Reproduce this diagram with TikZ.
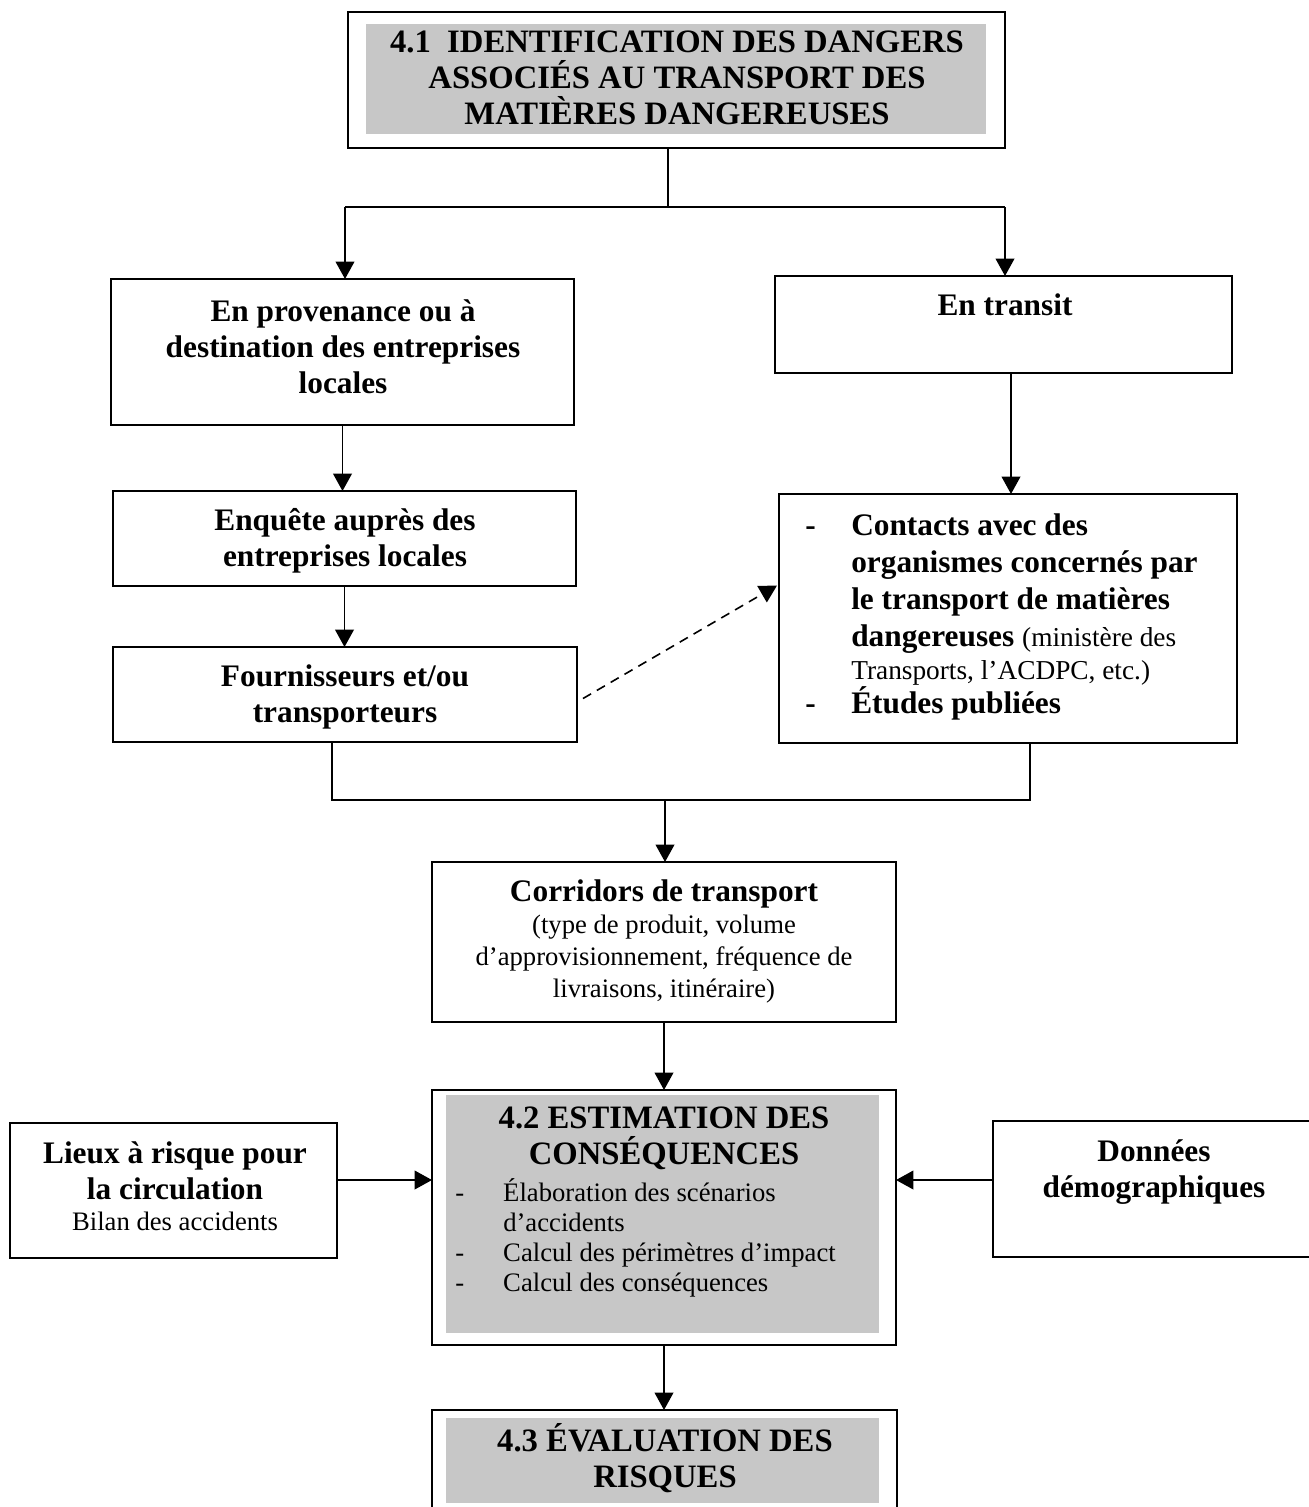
\documentclass[tikz,border=0pt]{standalone}
\usepackage{fontspec}
\setmainfont{Liberation Serif}
\usepackage{array}
\usetikzlibrary{arrows.meta,calc}
\begin{document}
\begin{tikzpicture}[x=0.75pt,y=-0.75pt,
  box/.style={draw, line width=1.3pt, inner sep=0pt, outer sep=0pt, rectangle},
  link/.style={line width=1.2pt},
  arr/.style={link, -{Triangle[length=13pt,width=14pt]}},
  dasharr/.style={arr, dash pattern=on 7pt off 5pt},
  hd/.style={font=\fontsize{24.5}{27}\selectfont\bfseries, align=center, inner sep=0pt},
  bd/.style={font=\fontsize{23.5}{27}\selectfont\bfseries, align=center, inner sep=0pt},
  rg/.style={font=\fontsize{20}{24}\selectfont, align=center, inner sep=0pt},
  shade/.style={fill=black!22}
]
\useasboundingbox (0,0) rectangle (1309,1507);
\begin{scope}
\clip (0,0) rectangle (1309,1507);

% shaded heading areas
\fill[shade] (366,24) rectangle (986,134);
\fill[shade] (446,1095) rectangle (879,1333);
\fill[shade] (446,1418) rectangle (879,1503);

% boxes
\node[box, minimum width=492.75pt, minimum height=102pt]   (title)    at (676.5,80) {};
\node[box, minimum width=347.25pt, minimum height=109.5pt] (prov)     at (342.5,352) {};
\node[box, minimum width=342.75pt, minimum height=72.75pt] (transit)  at (1003.5,324.5) {};
\node[box, minimum width=347.25pt, minimum height=71.25pt] (enq)      at (344.5,538.5) {};
\node[box, minimum width=348pt,    minimum height=71.25pt] (four)     at (345,694.5) {};
\node[box, minimum width=343.5pt,  minimum height=186.75pt](contacts) at (1008,618.5) {};
\node[box, minimum width=348pt,    minimum height=120pt]   (corr)     at (664,942) {};
\node[box, minimum width=348pt,    minimum height=191.25pt](est)      at (664,1217.5) {};
\node[box, minimum width=245.25pt, minimum height=101.25pt](lieux)    at (173.5,1190.5) {};
\node[box, minimum width=252.75pt, minimum height=102pt]   (donnees)  at (1161.5,1189) {};
\node[box, minimum width=348.75pt, minimum height=90pt]    (eval)     at (664.5,1470) {};

% texts
\node[hd] (ttitle) at (677,78) {4.1\ \ IDENTIFICATION DES DANGERS\\ASSOCIÉS AU TRANSPORT DES\\MATIÈRES DANGEREUSES};
\node[bd] (tprov) at (343,347) {En provenance ou à\\destination des entreprises\\locales};
\node[bd] (ttransit) at (1005,305) {En transit};
\node[bd] (tenq) at (345,541) {Enquête auprès des\\entreprises locales};
\node[bd] (tfour) at (345,697) {Fournisseurs et/ou\\transporteurs};
\node[inner sep=0pt, anchor=north west, font=\fontsize{23.5}{27.75}\selectfont\bfseries] (tcontacts) at (805,509)
  {\begin{tabular}{@{}p{34.5pt}@{}l@{}}
   - & Contacts avec des\\
     & organismes concernés par\\
     & le transport de matières\\
     & dangereuses {\fontseries{m}\fontsize{20.5}{24}\selectfont (ministère des}\\[-3pt]
     & {\fontseries{m}\fontsize{20.5}{24}\selectfont Transports, l’ACDPC, etc.)}\\[-3pt]
   - & Études publiées
   \end{tabular}};
\node[bd] (tcorr) at (664,894) {Corridors de transport};
\node[rg] (tcorr2) at (664,959) {(type de produit, volume\\d’approvisionnement, fréquence de\\livraisons, itinéraire)};
\node[hd] (test) at (664,1138) {4.2 ESTIMATION DES\\CONSÉQUENCES};
\node[inner sep=0pt, anchor=north west, font=\fontsize{20}{22.5}\selectfont] (testlist) at (455,1178)
  {\begin{tabular}{@{}p{36pt}@{}l@{}}
   - & Élaboration des scénarios\\
     & d’accidents\\
   - & Calcul des périmètres d’impact\\
   - & Calcul des conséquences
   \end{tabular}};
\node[bd] (tlieux) at (175,1170.5) {Lieux à risque pour\\la circulation};
\node[rg] (tlieux2) at (175,1221) {Bilan des accidents};
\node[bd] (tdonnees) at (1154,1172) {Données\\démographiques};
\node[hd] (teval) at (665,1458) {4.3 ÉVALUATION DES\\RISQUES};

% connectors
\coordinate (split) at (668,207);
\coordinate (sl) at (345,207);
\coordinate (sr) at (1005,207);
\draw[link] (title.south -| split) -- (split);
\draw[link] (sl) -- (sr);
\draw[arr] (sl) -- (sl |- prov.north);
\draw[arr] (sr) -- (sr |- transit.north);
\draw[arr] (prov.south) -- (prov.south |- enq.north);
\draw[arr] (enq.south) -- (enq.south |- four.north);
\coordinate (tx) at (1011,0);
\draw[arr] (transit.south -| tx) -- (contacts.north -| tx);
\coordinate (ds) at ($(four.east)+(6,4)$);
\coordinate (de) at ($(contacts.west)+(-2,-33)$);
\draw[dasharr] (ds) -- (de);
\coordinate (ml) at (332,800);
\coordinate (mr) at (1030,800);
\coordinate (mm) at (665,800);
\draw[link] (four.south -| ml) -- (ml) -- (mr) -- (contacts.south -| mr);
\draw[arr] (mm) -- (mm |- corr.north);
\draw[arr] (corr.south) -- (est.north);
\draw[arr] (est.south) -- (est.south |- eval.north);
\coordinate (ay) at (0,1180);
\draw[arr] (lieux.east |- ay) -- (est.west |- ay);
\draw[arr] (donnees.west |- ay) -- (est.east |- ay);
\end{scope}
\end{tikzpicture}
\end{document}
